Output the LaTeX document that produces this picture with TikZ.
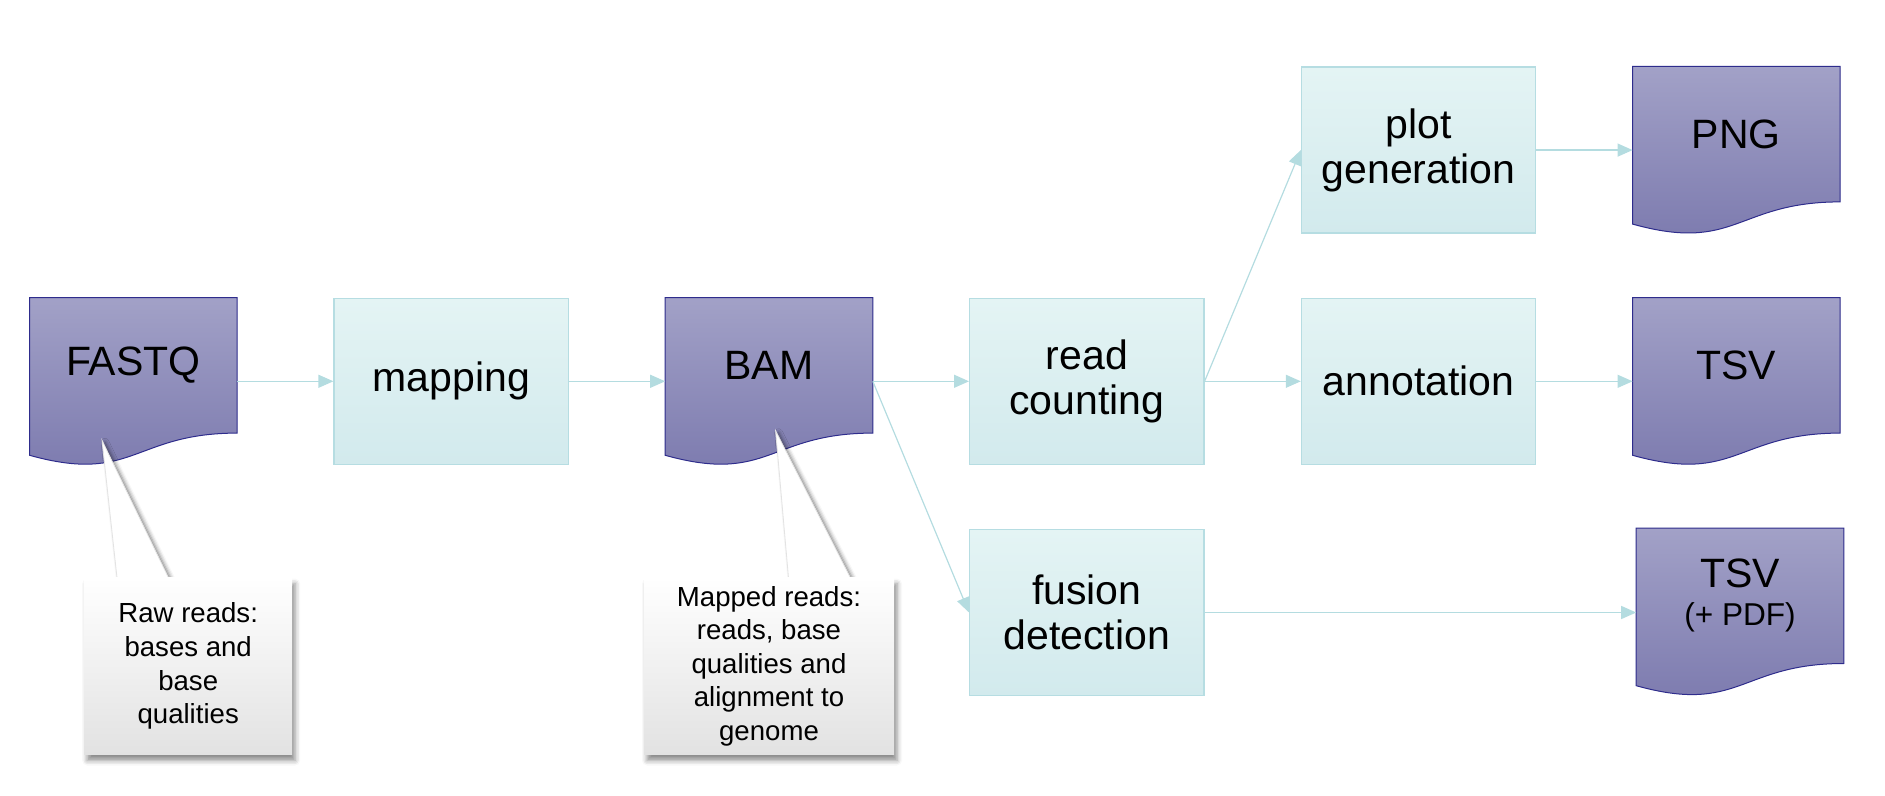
\documentclass[tikz,border=0pt]{standalone}
\usepackage{fontspec}
\setmainfont{Liberation Sans}
\usepackage{tikz}
\usetikzlibrary{arrows.meta, positioning, calc, backgrounds, shadows.blur}
\definecolor{proctop}{HTML}{E4F4F4}
\definecolor{procbot}{HTML}{D2EAED}
\definecolor{procline}{HTML}{B6DDE2}
\definecolor{doctop}{HTML}{A2A1C7}
\definecolor{docbot}{HTML}{7A78AD}
\definecolor{docline}{HTML}{2E2C8C}
\definecolor{arrowcol}{HTML}{B4DCE0}
\definecolor{notebot}{HTML}{E2E2E2}
\tikzset{
    process/.style={rectangle, draw=procline, line width=0.6pt, top color=proctop, bottom color=procbot, minimum width=117.2pt, minimum height=83pt, align=center, font=\fontsize{20.5pt}{22.5pt}\selectfont},
    doc/.style={rectangle, minimum width=103.4pt, minimum height=67.3pt, align=center, font=\fontsize{20.5pt}{22.5pt}\selectfont},
    docshade/.style={draw=docline, line width=0.5pt, top color=doctop, bottom color=docbot},
    note/.style={rectangle, top color=white, bottom color=notebot, minimum width=104pt, minimum height=88.4pt, align=center, font=\fontsize{13.8pt}{16.8pt}\selectfont, blur shadow={shadow xshift=1.5pt, shadow yshift=-3pt, shadow blur radius=2.5pt, shadow opacity=45}},
    wedge/.style={fill=white, draw=gray!22, line width=0.4pt, blur shadow={shadow xshift=1.5pt, shadow yshift=-1pt, shadow blur radius=2pt, shadow opacity=50}},
    arrow/.style={-{Triangle[length=7.5pt, width=6.5pt]}, draw=arrowcol, line width=0.6pt},
}
% document shape with wavy bottom, drawn under a doc node
\newcommand{\docshape}[1]{%
  \path[docshade] (#1.north west) -- (#1.north east) -- (#1.south east)
    .. controls (#1.south) and ($(#1.south)+(0,-25.6pt)$) .. ($(#1.south west)+(0,-11.1pt)$) -- cycle;}

\begin{document}
\begin{tikzpicture}[node distance=32pt and 48.1pt]
    \useasboundingbox (0,0) rectangle (942.5pt,-397.9pt);

    % Input and mapping
    \node[doc] (fastq) at (66.7pt,-182.7pt) {FASTQ};
    \node[process, right=of fastq.north east, anchor=north west] (mapping) {mapping};
    \node[doc, right=of mapping.north east, anchor=north west] (bam) {BAM};

    % Analysis steps
    \node[process, right=of bam.north east, anchor=north west] (count) {read\\counting};
    \node[process, below=of count] (fusion) {fusion\\detection};
    \node[process, right=of count] (annot) {annotation};
    \node[process, above=of annot] (plot) {plot\\generation};

    % Output files
    \node[doc, right=of plot.north east, anchor=north west] (png) {PNG};
    \node[doc, right=of annot.north east, anchor=north west] (tsv) {TSV};
    \node[doc, below=47.5pt of tsv.south west, anchor=north west, xshift=1.8pt] (tsvpdf) {TSV\\[-3.6pt]{\fontsize{15.8pt}{18pt}\selectfont (+ PDF)}};

    % Notes
    \node[note, below=72.1pt of fastq, xshift=27.4pt] (rawnote) {Raw reads:\\bases and\\base\\qualities};
    \node[note, below=72.1pt of bam, minimum width=125pt] (mappednote) {Mapped reads:\\reads, base\\qualities and\\alignment to\\genome};
    \coordinate (rawtip) at ($(fastq.south west)+(36.2pt,-3.6pt)$);
    \coordinate (maptip) at ($(bam.south)+(3.3pt,1.2pt)$);

    \begin{pgfonlayer}{background}
        \docshape{fastq}
        \docshape{bam}
        \docshape{png}
        \docshape{tsv}
        \docshape{tsvpdf}
        \path[wedge] (rawtip) -- ($(rawnote.north west)+(16.8pt,-2pt)$) -- ($(rawnote.north west)+(43.2pt,-2pt)$) -- cycle;
        \path[wedge] (maptip) -- ($(mappednote.north west)+(72.6pt,-2pt)$) -- ($(mappednote.north west)+(104.3pt,-2pt)$) -- cycle;
    \end{pgfonlayer}

    % Arrows
    \draw[arrow] (fastq.east |- mapping.west) -- (mapping.west);
    \draw[arrow] (mapping.east) -- (bam.west |- mapping.east);
    \draw[arrow] (bam.east |- count.west) -- (count.west);
    \draw[arrow] (bam.east |- count.west) -- (fusion.west);
    \draw[arrow] (count.east) -- (plot.west);
    \draw[arrow] (count.east) -- (annot.west);
    \draw[arrow] (plot.east) -- (png.west |- plot.east);
    \draw[arrow] (annot.east) -- (tsv.west |- annot.east);
    \draw[arrow] (fusion.east) -- (tsvpdf.west |- fusion.east);
\end{tikzpicture}
\end{document}
